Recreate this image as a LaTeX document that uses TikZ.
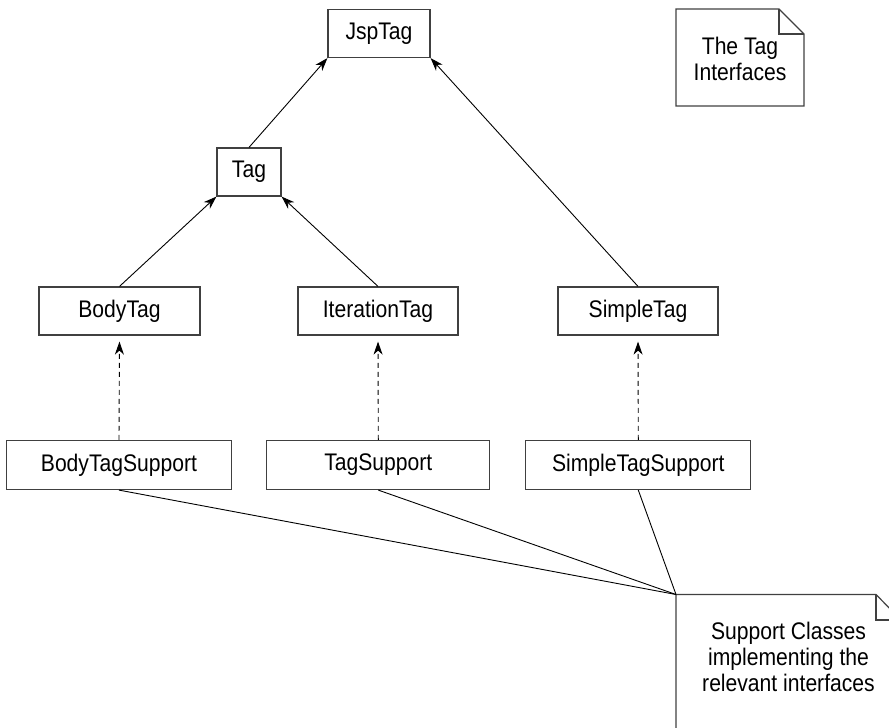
\documentclass[tikz,border=0pt]{standalone}
\usepackage{fontspec}
\setmainfont{Liberation Sans}[FakeStretch=0.88]
\usetikzlibrary{arrows.meta}

\tikzset{
	tagbox/.style={draw=black!75, line width=1.2pt, minimum height=48pt, inner sep=0pt, font=\fontsize{24}{26}\selectfont},
	notebox/.style={draw=black!75, line width=1.2pt},
	notetext/.style={align=center, inner sep=0pt, font=\fontsize{24}{26}\selectfont},
	isa/.style={-{Stealth[length=13pt,width=9pt,inset=4pt]}, line width=0.9pt},
	impl/.style={isa, dash pattern=on 5pt off 4pt, shorten >=6pt},
	usesline/.style={line width=0.9pt},
}

\begin{document}
\begin{tikzpicture}[x=1pt, y=-1pt]
			\useasboundingbox (0,0) rectangle (889,728);
			\clip (0,0) rectangle (889,728);
			% interfaces
			\node[tagbox, minimum width=102pt] (jsptag) at (379,33.5) {JspTag};
			\node[tagbox, minimum width=64pt] (tag) at (249,172) {Tag};
			\node[tagbox, minimum width=161pt] (bodytag) at (119.5,311) {BodyTag};
			\node[tagbox, minimum width=160pt] (iterationtag) at (378,311) {IterationTag};
			\node[tagbox, minimum width=160pt] (simpletag) at (638,311) {SimpleTag};
			% support classes
			\node[tagbox, minimum width=225pt, minimum height=49pt] (bodysupport) at (119,465) {BodyTagSupport};
			\node[tagbox, minimum width=223pt, minimum height=49pt] (tagsupport) at (378.3,465) {TagSupport};
			\node[tagbox, minimum width=225pt, minimum height=49pt] (simplesupport) at (638.3,465) {SimpleTagSupport};
			% notes
			\draw[notebox] (676,9) -- (779,9) -- (804,34) -- (804,106) -- (676,106) -- cycle;
			\draw[notebox] (779,9) -- (779,34) -- (804,34);
			\node[notetext] (ifacenote) at (740,58.5) {The Tag\\Interfaces};
			\coordinate (supnote) at (676,594.5);
			\draw[notebox] (676,740) -- (supnote) -- (876,594.5) -- (901,620) -- (901,740);
			\draw[notebox] (876,594.5) -- (876,620) -- (901,620);
			\node[notetext] (supnotetext) at (788.5,656.5) {Support Classes\\implementing the\\relevant interfaces};
			% inheritance
			\draw[isa] (tag.north) -- (jsptag.south west);
			\draw[isa] (simpletag.north) -- (jsptag.south east);
			\draw[isa] (bodytag.north) -- (tag.south west);
			\draw[isa] (iterationtag.north) -- (tag.south east);
			% implementation
			\draw[impl] (bodysupport.north) -- (bodytag.south);
			\draw[impl] (tagsupport.north) -- (iterationtag.south);
			\draw[impl] (simplesupport.north) -- (simpletag.south);
			% note links
			\draw[usesline] (bodysupport.south) -- (supnote);
			\draw[usesline] (tagsupport.south) -- (supnote);
			\draw[usesline] (simplesupport.south) -- (supnote);
\end{tikzpicture}
\end{document}
